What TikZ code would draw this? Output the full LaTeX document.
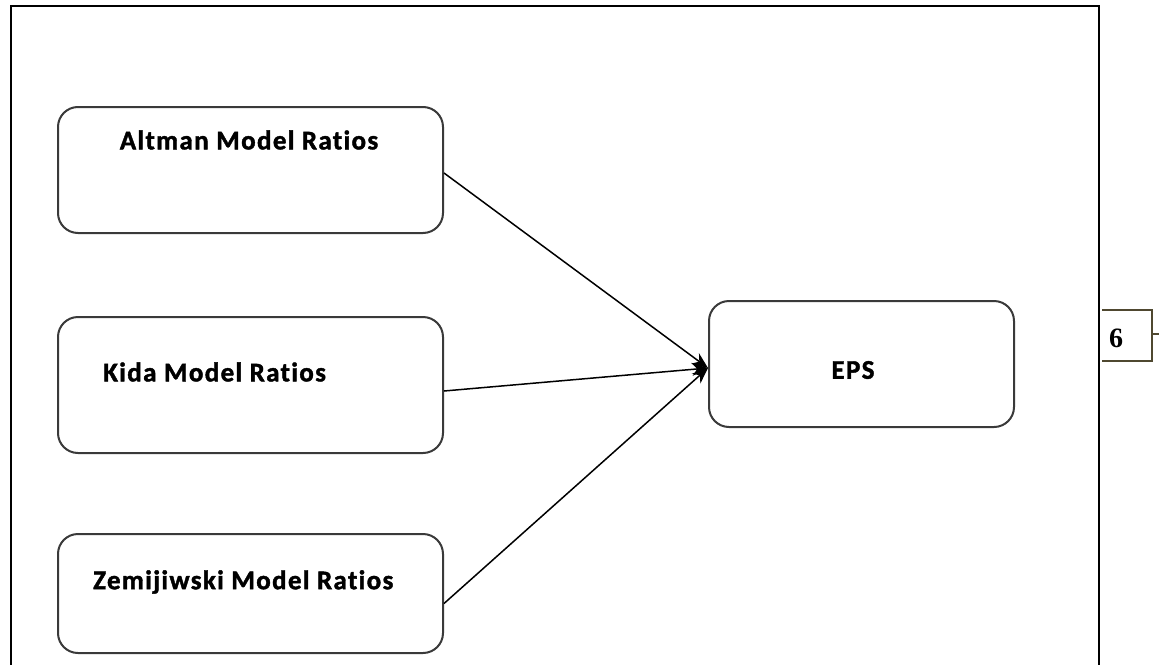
\documentclass[tikz,border=0pt]{standalone}
\usepackage{fontspec}
\setmainfont{Carlito}[Ligatures={NoCommon}]
\newfontfamily\serifbold{Liberation Serif}[Ligatures={NoCommon}]
\usetikzlibrary{arrows.meta}
\definecolor{boxgray}{HTML}{3A3A3A}
\definecolor{olive}{HTML}{4F4830}
\tikzset{
  modelbox/.style={draw=boxgray, line width=2pt, rounded corners=20pt, minimum width=385pt, inner sep=0pt, anchor=north west},
  epsbox/.style={draw=boxgray, line width=2pt, rounded corners=20pt, minimum width=305pt, minimum height=126pt, inner sep=0pt, anchor=north west},
  lbl/.style={font=\fontsize{27}{30}\selectfont\bfseries\addfontfeatures{LetterSpace=5,FakeBold=1.5}, inner sep=0pt},
  conn/.style={draw=black, line width=1.5pt, -{Stealth[length=16pt,width=13pt]}},
  frameline/.style={draw=black, line width=2pt},
}
\begin{document}
\begin{tikzpicture}[x=1pt,y=-1pt]
\useasboundingbox (0,0) rectangle (1159,664);
\fill[white] (0,0) rectangle (1159,664);
% outer frame (open at bottom)
\draw[frameline] (11,670) -- (11,6) -- (1099,6) -- (1099,670);
% boxes
\node[modelbox, minimum height=126pt] (altman) at (57,106) {};
\node[modelbox, minimum height=136pt] (kida) at (57,316) {};
\node[modelbox, minimum height=119pt] (zem) at (57,533) {};
\node[epsbox] (eps) at (708,300) {};
% labels
\node[lbl] (altmanT) at (249,140) {Altman Model Ratios};
\node[lbl, anchor=west] (kidaT) at (103,372) {Kida Model Ratios};
\node[lbl, anchor=west] (zemT) at (93,582) {Zemijiwski Model Ratios};
\node[lbl] (epsT) at (853,370) {EPS};
% connectors
\coordinate (tip) at ([yshift=-4pt]eps.west);
\draw[conn] ([yshift=-3pt]altman.east) -- (tip);
\draw[conn] ([yshift=-6pt]kida.east) -- (tip);
\draw[conn] ([yshift=-10pt]zem.east) -- (tip);
% page number box
\draw[olive, line width=1.8pt] (1102,310) -- (1152,310) -- (1152,361) -- (1102,361);
\coordinate (pgtick) at (1159,334);
\draw[olive, line width=1.8pt] (1152,334) -- (pgtick);
\node[font=\serifbold\fontsize{28}{30}\selectfont\bfseries, inner sep=0pt] (pg) at (1116,338) {6};
\end{tikzpicture}
\end{document}
